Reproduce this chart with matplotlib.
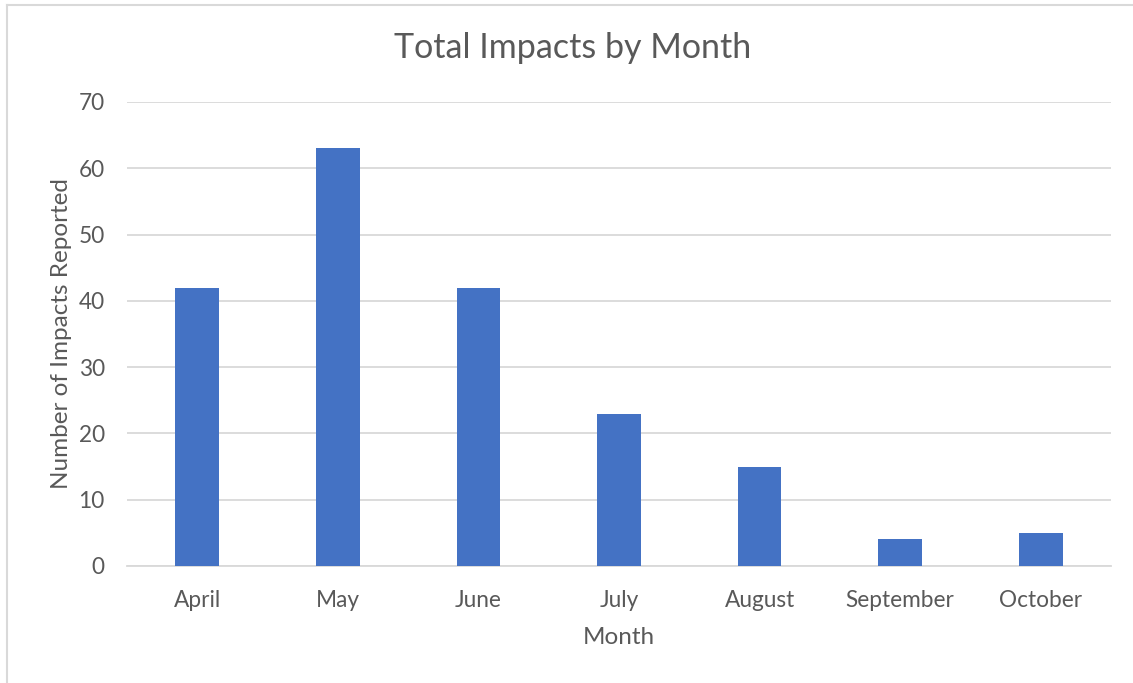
import matplotlib
matplotlib.use("Agg")
import matplotlib.pyplot as plt
from matplotlib.lines import Line2D

months = ["April", "May", "June", "July", "August", "September", "October"]
impacts = [42, 63, 42, 23, 15, 4, 5]
yticks = [0, 10, 20, 30, 40, 50, 60, 70]

plt.rcParams['font.family'] = ['Lato', 'DejaVu Sans']
txt = '#595959'

fig = plt.figure(figsize=(11.33, 6.83), dpi=100)
ax = fig.add_axes([127/1133, 1 - 566/683, (1111-127)/1133, (566-102)/683])

x = range(len(months))
ax.bar(x, impacts, width=0.31, color='#4472C4', zorder=3)
ax.set_xlim(-0.5, len(months) - 0.5)
ax.set_ylim(0, 70)
ax.set_yticks(yticks)
ax.set_xticks(list(x))
ax.set_xticklabels(months)
ax.grid(axis='y', color='#D9D9D9', linewidth=1.3, zorder=0)
for s in ['top', 'right', 'left']:
    ax.spines[s].set_visible(False)
ax.spines['bottom'].set_color('#D9D9D9')
ax.spines['bottom'].set_linewidth(1.3)
ax.tick_params(length=0, labelsize=16.3, colors=txt)
ax.tick_params(axis='y', pad=16)
ax.tick_params(axis='x', pad=17)

ax.set_xlabel('Month', fontsize=17.5, color=txt, labelpad=12)
ax.set_ylabel('Number of Impacts Reported', fontsize=17.5, color=txt, labelpad=5)
fig.text(573/1133, 1 - 48/683, 'Total Impacts by Month', fontsize=24.5, color=txt,
         ha='center', va='center')

# chart frame
fig.add_artist(Line2D([7/1133, 1], [1 - 5/683, 1 - 5/683], color='#D9D9D9', lw=1.5))
fig.add_artist(Line2D([7/1133, 7/1133], [0, 1 - 5/683], color='#D9D9D9', lw=1.5))

fig.savefig('out.png', dpi=100)
